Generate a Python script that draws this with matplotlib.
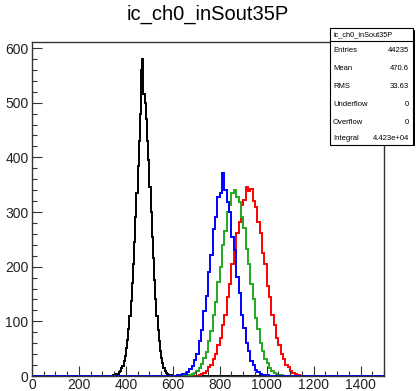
import numpy as np
import matplotlib.pyplot as plt
from matplotlib.patches import Rectangle
from matplotlib.ticker import MultipleLocator

plt.rcParams['font.family'] = ['Liberation Sans', 'DejaVu Sans']

title = 'ic_ch0_inSout35P'

# black: bins of width 5 starting at 340
black_start = 340
black_counts = [0, 1, 1, 2, 3, 4, 7, 9, 14, 19, 27, 37, 52, 66, 86, 110, 138, 170,
                205, 245, 290, 335, 385, 430, 480, 560, 580, 515, 500, 470, 430, 395,
                345, 300, 255, 215, 175, 140, 110, 85, 64, 46, 33, 23, 15, 10, 6, 4,
                2, 1, 1, 0]

# blue / green / red: bins of width 10
blue_start = 620
blue_counts = [1, 1, 3, 4, 8, 12, 18, 30, 41, 64, 84, 118, 146, 190, 221, 268, 290,
               328, 335, 372, 340, 318, 300, 255, 230, 182, 152, 112, 88, 60, 45, 28,
               20, 11, 8, 4, 2, 1, 1]

green_start = 660
green_counts = [1, 2, 4, 6, 10, 15, 22, 33, 44, 64, 82, 112, 135, 172, 200, 240, 265,
                300, 312, 335, 340, 328, 318, 290, 270, 232, 205, 168, 140, 106, 86,
                60, 46, 31, 23, 14, 10, 6, 4, 2, 1]

red_start = 710
red_counts = [2, 4, 6, 10, 16, 20, 31, 40, 57, 70, 94, 112, 145, 168, 204, 226, 262,
              282, 312, 322, 345, 338, 342, 320, 310, 282, 262, 225, 205, 165, 145,
              112, 94, 70, 57, 40, 31, 20, 16, 10, 6, 4, 2]

stats_labels = ['Entries', 'Mean', 'RMS', 'Underflow', 'Overflow', 'Integral']
stats_values = ['44235', '470.6', '33.63', '0', '0', '4.423e+04']


def full(start, width, counts):
    edges = np.arange(0, 1500 + width, width)
    vals = np.zeros(len(edges) - 1)
    i0 = start // width
    vals[i0:i0 + len(counts)] = counts
    return vals, edges


W, H = 416, 391
fig = plt.figure(figsize=(W / 100, H / 100), dpi=100)
ax = fig.add_axes([32 / W, 1 - 376 / H, 352 / W, 334 / H])

for start, width, counts, col in [(black_start, 5, black_counts, 'black'),
                                  (red_start, 10, red_counts, '#ff0000'),
                                  (green_start, 10, green_counts, '#22aa22'),
                                  (blue_start, 10, blue_counts, '#0000ff')]:
    vals, edges = full(start, width, counts)
    ax.stairs(vals, edges, color=col, lw=1.4)

ax.set_xlim(0, 1500)
ax.set_ylim(0, 611)
ax.xaxis.set_major_locator(MultipleLocator(200))
ax.xaxis.set_minor_locator(MultipleLocator(50))
ax.yaxis.set_major_locator(MultipleLocator(100))
ax.yaxis.set_minor_locator(MultipleLocator(20))
ax.tick_params(which='both', direction='in', labelsize=10, color='#333333',
               labelcolor='#222222')
ax.tick_params(which='major', length=7.2, width=0.8)
ax.tick_params(which='minor', length=3.6, width=0.8)
ax.tick_params(axis='x', pad=1.5)
ax.tick_params(axis='y', pad=2.5)
for s in ax.spines.values():
    s.set_linewidth(1.0)
    s.set_color('#333333')

fig.text(208 / W, 1 - 14 / H, title, ha='center', va='center', fontsize=14.5)

# stats box
bx0, bx1, by0, by1 = 330, 413, 28, 145
fig.patches.append(Rectangle(((bx0 + 1.5) / W, 1 - (by1 + 1.5) / H), (bx1 - bx0) / W,
                             (by1 - by0) / H, transform=fig.transFigure,
                             facecolor='black', edgecolor='none', zorder=5))
fig.patches.append(Rectangle((bx0 / W, 1 - by1 / H), (bx1 - bx0) / W, (by1 - by0) / H,
                             transform=fig.transFigure, facecolor='white',
                             edgecolor='black', lw=0.8, zorder=6))
fig.lines.append(plt.Line2D([bx0 / W, bx1 / W], [1 - 41 / H, 1 - 41 / H],
                            transform=fig.transFigure, color='black', lw=0.8, zorder=7))
fig.text((bx0 + 3) / W, 1 - 34.5 / H, title, ha='left', va='center', fontsize=5.3, zorder=8)
rows_y = [50, 68, 86, 104, 122, 139]
for lab, val, yy in zip(stats_labels, stats_values, rows_y):
    fig.text((bx0 + 3) / W, 1 - yy / H, lab, ha='left', va='center', fontsize=5.5, zorder=8)
    fig.text((bx1 - 4) / W, 1 - yy / H, val, ha='right', va='center', fontsize=5.5, zorder=8)

fig.savefig('out.png', dpi=100)
